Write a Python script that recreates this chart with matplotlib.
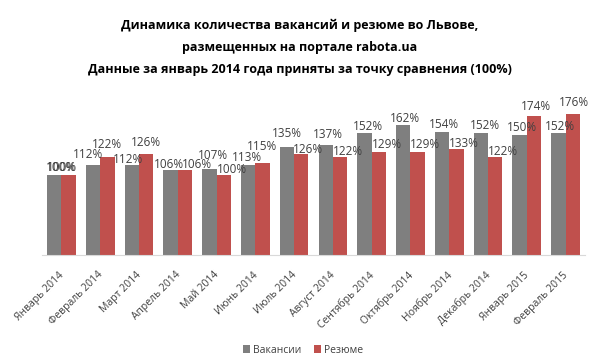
import numpy as np
import matplotlib.pyplot as plt
from matplotlib.transforms import ScaledTranslation

plt.rcParams['font.family'] = ['Open Sans', 'DejaVu Sans']

months = ['Январь 2014', 'Февраль 2014', 'Март 2014', 'Апрель 2014', 'Май 2014',
          'Июнь 2014', 'Июль 2014', 'Август 2014', 'Сентябрь 2014', 'Октябрь 2014',
          'Ноябрь 2014', 'Декабрь 2014', 'Январь 2015', 'Февраль 2015']
vacancies = [100, 112, 112, 106, 107, 113, 135, 137, 152, 162, 154, 152, 150, 152]
resumes = [100, 122, 126, 106, 100, 115, 126, 122, 129, 129, 133, 122, 174, 176]

# data label nudges in pixels (dx, dy above bar top), as placed in the original
vac_nudge = [(7, 7), (-5, 11), (-4, 6), (-2, 6), (4, 14), (-1, 7), (0, 13),
             (2, 11), (3, 7), (2, 7), (2, 7), (4, 8), (2, 7), (2, 7)]
res_nudge = [(-7, 7), (0, 13), (0, 12), (12, 6), (8, 5), (0, 16), (7, 5),
             (8, 6), (8, 7), (7, 7), (7, 5), (8, 6), (2, 9), (1, 12)]

gray = '#7f7f7f'
red = '#c0504d'
text_col = '#404040'

fig = plt.figure(figsize=(6, 3.62), dpi=100)
ax = fig.add_axes([0.07, 0.2956, 0.905, 0.442])

x = np.arange(len(months))
w = 0.37
b1 = ax.bar(x - w / 2, vacancies, w, color=gray, label='Вакансии')
b2 = ax.bar(x + w / 2, resumes, w, color=red, label='Резюме')

for bars, vals, nudge in ((b1, vacancies, vac_nudge), (b2, resumes, res_nudge)):
    for rect, v, (dx, dy) in zip(bars, vals, nudge):
        ax.annotate(f'{v}%', (rect.get_x() + rect.get_width() / 2, v),
                    xytext=(dx, dy), textcoords='offset pixels',
                    ha='center', va='center', fontsize=8.5, color=text_col)

ax.set_xlim(-0.5, 13.5)
ax.set_ylim(0, 200)
ax.set_yticks([])
for s in ['top', 'right', 'left']:
    ax.spines[s].set_visible(False)
ax.spines['bottom'].set_color('#d9d9d9')
ax.set_xticks(x)
ax.set_xticklabels(months, rotation=45, ha='right', rotation_mode='anchor',
                   fontsize=7.5, color=text_col)
ax.tick_params(axis='x', length=0, pad=10.5)
shift = ScaledTranslation(-3 / 100, 0, fig.dpi_scale_trans)
for lbl in ax.get_xticklabels():
    lbl.set_transform(lbl.get_transform() + shift)

fig.text(0.5, 0.931, 'Динамика количества вакансий и резюме во Львове,',
         ha='center', va='center', fontsize=9, fontweight='bold', color='black')
fig.text(0.5, 0.870, 'размещенных на портале rabota.ua',
         ha='center', va='center', fontsize=9, fontweight='bold', color='black')
fig.text(0.5, 0.807, 'Данные за январь 2014 года приняты за точку сравнения (100%)',
         ha='center', va='center', fontsize=9, fontweight='bold', color='black')

fig.legend(handles=[b1, b2], loc='center', bbox_to_anchor=(0.505, 0.033), ncol=2,
           frameon=False, fontsize=7.5, handlelength=0.7, handleheight=0.7,
           handletextpad=0.3, columnspacing=1.2, labelcolor=text_col)

fig.savefig('out.png', dpi=100)
